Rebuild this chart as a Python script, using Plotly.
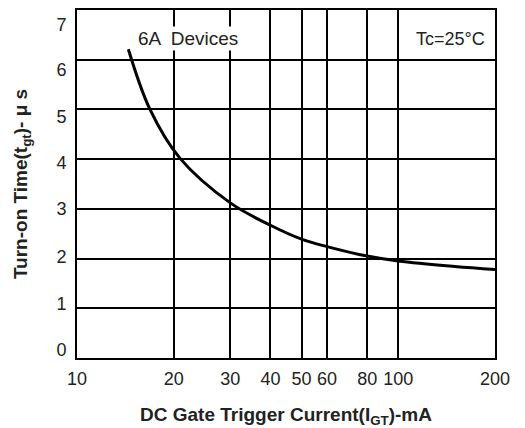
import plotly.graph_objects as go

current_ma = [14.45, 16.87, 20.9, 30, 40, 50, 60, 80, 100, 150, 200]
turn_on_us = [6.21, 5.0, 4.02, 3.12, 2.67, 2.39, 2.24, 2.05, 1.95, 1.84, 1.78]

x_ticks = [10, 20, 30, 40, 50, 60, 80, 100, 200]
y_ticks = [0, 1, 2, 3, 4, 5, 6, 7]
y_tick_text = ["0", "1", "2", "3", "4", "5", "6", "7"]
# the reference prints its y labels slightly off the grid lines (styling)
y_label_pos = [0.16, 1.10, 2.03, 3.0, 3.92, 4.85, 5.79, 6.70]

font_main = "Liberation Sans, Arial, sans-serif"

fig = go.Figure()
fig.add_trace(go.Scatter(x=current_ma, y=turn_on_us, mode="lines",
                         line=dict(color="black", width=3, shape="spline", smoothing=1.0),
                         showlegend=False, hoverinfo="skip"))
fig.add_trace(go.Scatter(x=[10], y=[0], yaxis="y2", mode="markers",
                         marker=dict(opacity=0), showlegend=False, hoverinfo="skip"))

fig.update_layout(
    width=525, height=428,
    margin=dict(l=77, r=30, t=10, b=70, autoexpand=False),
    paper_bgcolor="white", plot_bgcolor="white",
    font=dict(family=font_main, color="#222222", size=18),
    xaxis=dict(type="log", range=[1, 2.30103], tickvals=x_ticks,
               ticktext=[str(v) for v in x_ticks], automargin=False,
               showgrid=True, gridcolor="black", gridwidth=1.5,
               showline=True, linecolor="black", linewidth=2, mirror=True,
               ticks="outside", ticklen=3, tickcolor="rgba(0,0,0,0)",
               tickfont=dict(size=18, color="#222222"),
               title=dict(text="<b>DC Gate Trigger Current(I<sub>GT</sub>)-mA</b>",
                          font=dict(size=19, color="#222222"), standoff=26),
               zeroline=False),
    yaxis=dict(range=[0, 7], tickvals=y_ticks, showticklabels=False,
               showgrid=True, gridcolor="black", gridwidth=1.5,
               showline=True, linecolor="black", linewidth=2, mirror=True,
               ticks="", zeroline=False, automargin=False),
    yaxis2=dict(range=[0, 7], overlaying="y", side="left", anchor="x",
                tickvals=y_label_pos, ticktext=y_tick_text, automargin=False,
                showgrid=False, showline=False, zeroline=False,
                ticks="outside", ticklen=6, tickcolor="rgba(0,0,0,0)",
                tickfont=dict(size=18, color="#222222"),
                title=dict(text="<b>Turn-on Time(t<sub>gt</sub>)- μ s</b>",
                           font=dict(size=19, color="#222222"), standoff=23)),
    annotations=[
        dict(text="6A  Devices", x=0.14, y=0.918, xref="paper", yref="paper",
             xanchor="left", yanchor="middle", showarrow=False,
             font=dict(size=19, color="#222222"), bgcolor="white"),
        dict(text="Tc=25°C", x=0.98, y=0.918, xref="paper", yref="paper",
             xanchor="right", yanchor="middle", showarrow=False,
             font=dict(size=18, color="#222222")),
    ],
)

fig.write_html("out.html")
